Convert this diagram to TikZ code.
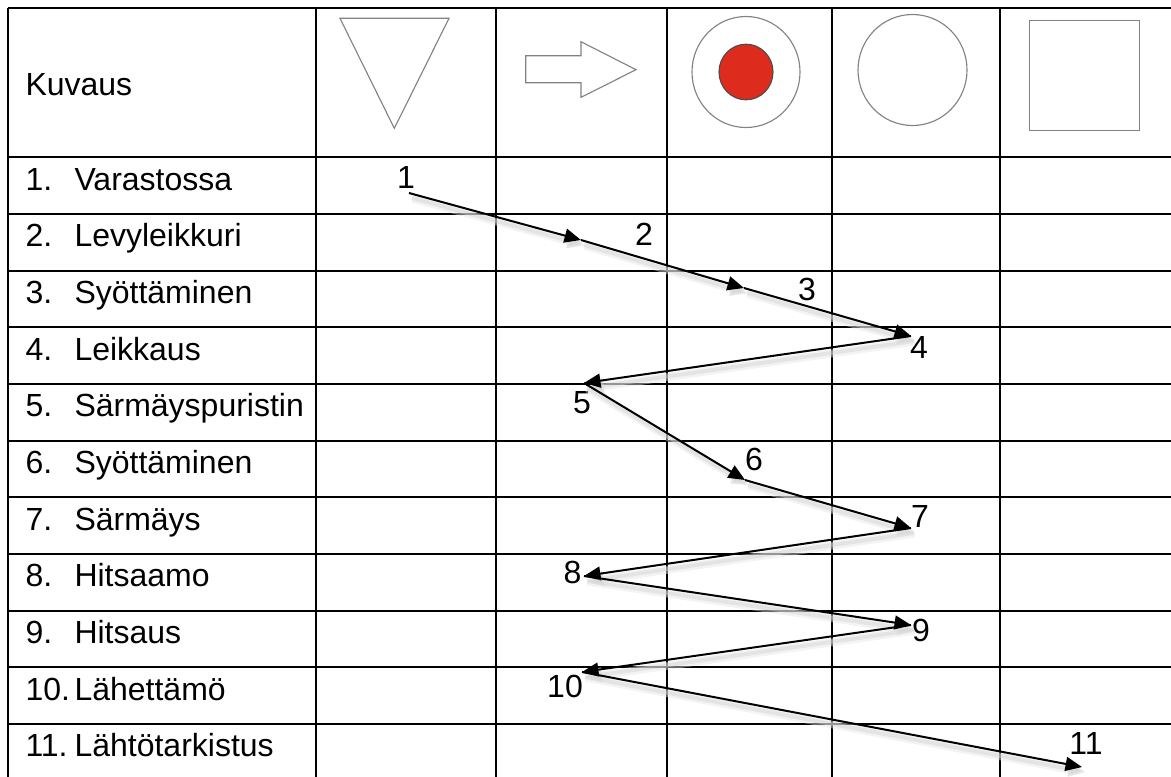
\documentclass[tikz,border=0pt]{standalone}
\usepackage{fontspec}
\setmainfont{Liberation Sans}
\usetikzlibrary{arrows.meta,positioning,calc}
\definecolor{dotred}{RGB}{221,43,30}
\definecolor{icongray}{RGB}{130,130,130}

\begin{document}
\begin{tikzpicture}[
      x=0.4pt, y=-0.4pt,
      every node/.style={font=\fontsize{12.8}{15}\selectfont, inner sep=0pt},
      grid/.style={line width=0.8pt},
      icon/.style={draw=icongray, line width=0.45pt},
      steplbl/.style={anchor=base},
      flow/.style={-{Triangle[length=6.6pt,width=5.6pt]}, line width=0.8pt,
                   preaction={draw=black!10, line width=3.2pt, opacity=.45,
                              transform canvas={shift={(1.4pt,-2.2pt)}}},
                   preaction={draw=black!18, line width=1.6pt, opacity=.45,
                              transform canvas={shift={(1.2pt,-2pt)}}}}
  ]
    \useasboundingbox (0,0) rectangle (1171,776);
    \clip (0,0) rectangle (1171,776);

    \foreach \x in {8,316,496,667,832,1000}
      \draw[grid] (\x,8) -- (\x,790);
    \draw[grid] (8,8) -- (1180,8);
    \foreach \k in {0,...,10}
      \draw[grid] (8,157.3+56.65*\k) -- (1180,157.3+56.65*\k);

    \node[anchor=west] (kuvaus) at (25,85) {Kuvaus};
    \foreach \txt [count=\i] in {Varastossa, Levyleikkuri, Syöttäminen, Leikkaus,
        Särmäyspuristin, Syöttäminen, Särmäys, Hitsaamo, Hitsaus, Lähettämö,
        Lähtötarkistus}
    {
      \node[anchor=base west] (n\i) at (25,157.3+56.65*\i-56.65+33) {\i.};
      \node[anchor=base west] (r\i) at (74,157.3+56.65*\i-56.65+33) {\txt};
    }

    \draw[icon] (340,18.3) -- (449,18.3) -- (394.3,128.3) -- cycle;
    \draw[icon] (525.7,55.7) -- (581,55.7) -- (581,41.7) -- (636,69.7)
      -- (581,97.3) -- (581,82.7) -- (525.7,82.7) -- cycle;
    \draw[icon] (746,72) ellipse[x radius=54, y radius=55.5];
    \draw[draw=black!70, fill=dotred, line width=0.45pt] (746,72) ellipse[x radius=27, y radius=27.8];
    \draw[icon] (912.5,70) ellipse[x radius=54.5, y radius=55.5];
    \draw[icon] (1029.3,20.7) rectangle (1139.7,130.3);

    \node[steplbl] (s1)  at (406,188)   {1};
    \node[steplbl] (s2)  at (644,245)   {2};
    \node[steplbl] (s3)  at (807,300)   {3};
    \node[steplbl] (s4)  at (919,358)   {4};
    \node[steplbl] (s5)  at (582,413)   {5};
    \node[steplbl] (s6)  at (754,470)   {6};
    \node[steplbl] (s7)  at (920,527)   {7};
    \node[steplbl] (s8)  at (572.5,583) {8};
    \node[steplbl] (s9)  at (921,641.5) {9};
    \node[steplbl] (s10) at (565,697)   {10};
    \node[steplbl] (s11) at (1086,754)  {11};

    \coordinate (p1)  at (409,193);
    \coordinate (p2)  at (581,240);
    \coordinate (p3)  at (744,288);
    \coordinate (p4)  at (911,336);
    \coordinate (p5)  at (584,383);
    \coordinate (p6)  at (745,480);
    \coordinate (p7)  at (911,528);
    \coordinate (p8)  at (584,576);
    \coordinate (p9)  at (911,625);
    \coordinate (p10) at (582,672);
    \coordinate (p11) at (1082,767);

    \foreach \a/\b in {1/2,2/3,3/4,4/5,5/6,6/7,7/8,8/9,9/10,10/11}
      \draw[flow] (p\a) -- (p\b);
  \end{tikzpicture}
\end{document}
